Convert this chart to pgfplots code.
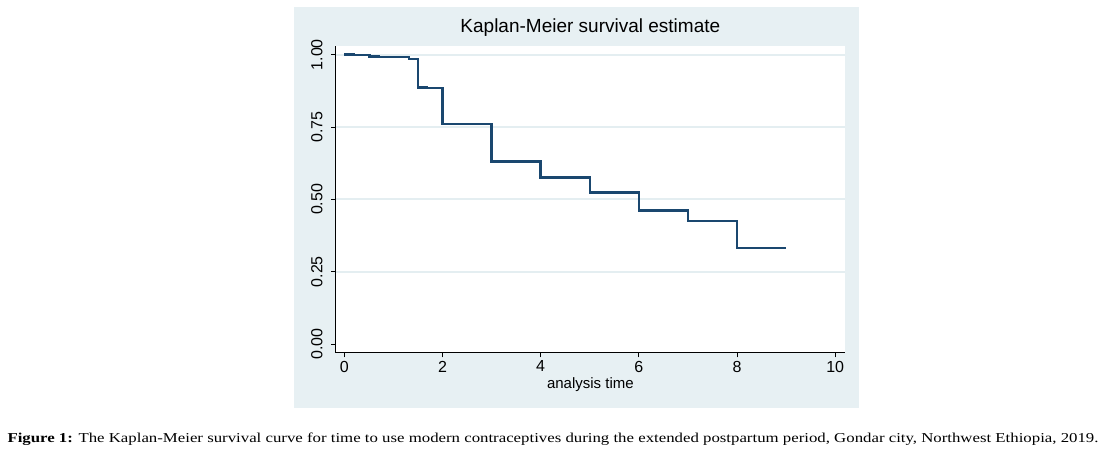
\documentclass[border=0pt]{standalone}
\usepackage{pgfplots}
\pgfplotsset{compat=1.18}
\usepackage{fontspec}
\setmainfont{Liberation Sans}
\newfontfamily\capfont[FakeStretch=1.235]{Liberation Serif}
\definecolor{statabg}{RGB}{231,240,243}
\definecolor{statagrid}{RGB}{228,238,241}
\definecolor{statanavy}{RGB}{26,71,111}

\pgfplotstableread{
t     s
0.00  1.000
0.20  0.998
0.51  0.994
0.71  0.991
1.32  0.985
1.50  0.887
1.68  0.884
2.00  0.760
3.00  0.631
4.00  0.576
5.00  0.524
6.00  0.461
7.00  0.426
8.00  0.332
9.00  0.332
}\kmdata

\begin{document}
\begin{tikzpicture}
% page = 1111 x 449 pt, y measured from the bottom
\path[use as bounding box] (0pt,0pt) rectangle (1111pt,449pt);
\fill[statabg] (294pt,40.7pt) rectangle (859pt,442.3pt);

\begin{axis}[
  at={(335.7pt,96.3pt)}, anchor=south west,
  scale only axis,
  width=509.3pt, height=306.7pt,
  xmin=-0.175, xmax=10.2,
  ymin=-0.03, ymax=1.03,
  axis background/.style={fill=white},
  axis x line*=bottom, axis y line*=left,
  axis line style={black, line width=1.2pt, -},
  xtick={0,2,...,10},
  ytick={0.25,0.5,0.75,1},
  extra y ticks={0},
  extra y tick style={grid=none},
  ymajorgrids,
  grid style={statagrid, line width=1.8pt},
  tick align=outside,
  major tick length=4.7pt,
  tick style={black, line width=1pt},
  xticklabel style={font=\fontsize{16}{16}\selectfont},
  yticklabel style={font=\fontsize{16}{16}\selectfont, rotate=90, anchor=south},
  yticklabel shift=5pt,
  yticklabel={\pgfmathprintnumber[fixed,fixed zerofill,precision=2]{\tick}},
  /pgf/number format/assume math mode=true,
  xlabel={analysis time},
  xlabel style={font=\fontsize{15}{15}\selectfont, at={(axis description cs:0.5,0)}, anchor=base, yshift=-35.6pt},
  title={Kaplan-Meier survival estimate},
  title style={font=\fontsize{19}{19}\selectfont, at={(axis description cs:0.5,1)}, anchor=base, yshift=7pt},
  clip=false,
]
\addplot[const plot, statanavy, line width=2.4pt] table[x=t, y=s] {\kmdata};
\end{axis}

\node[anchor=base west, inner sep=0pt] at (7.3pt,6.7pt)
  {\capfont\fontsize{13.6}{16}\selectfont\textbf{Figure 1:} The Kaplan-Meier survival curve for time to use modern contraceptives during the extended postpartum period, Gondar city, Northwest Ethiopia, 2019.};
\end{tikzpicture}
\end{document}
